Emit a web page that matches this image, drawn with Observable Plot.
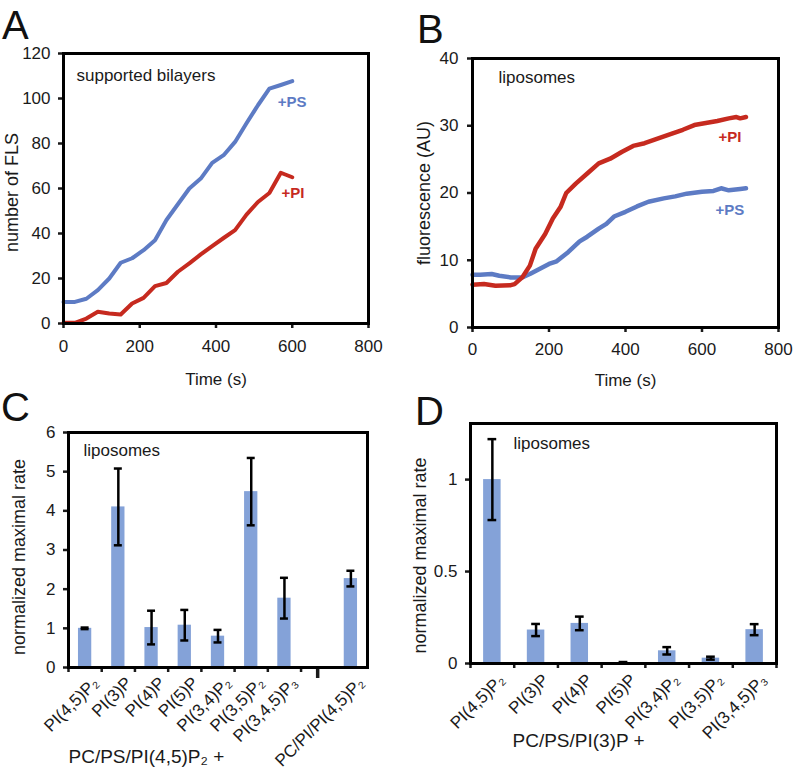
<!DOCTYPE html>
<html><head><meta charset="utf-8">
<script src="https://cdn.jsdelivr.net/npm/d3@7"></script>
<script src="https://cdn.jsdelivr.net/npm/@observablehq/plot@0.6"></script>
<style>
body{margin:0;background:#fff;font-family:"Liberation Sans",Arial,Helvetica,sans-serif;}
#fig{position:relative;width:795px;height:773px;overflow:hidden;background:#fff;}
.panel{position:absolute;}
.letter{position:absolute;font-size:40px;line-height:1;color:#111;}
</style></head><body>
<div id="fig">
  <div class="panel" id="pA" style="left:0;top:0"></div>
  <div class="panel" id="pB" style="left:400px;top:0"></div>
  <div class="panel" id="pC" style="left:0;top:385px"></div>
  <div class="panel" id="pD" style="left:400px;top:385px"></div>
  <div class="letter" style="left:2px;top:5px">A</div>
  <div class="letter" style="left:417px;top:9px">B</div>
  <div class="letter" style="left:1px;top:387px">C</div>
  <div class="letter" style="left:415px;top:391px">D</div>
</div>
<script>
// ---- Panel A: supported bilayers ----
const timeA = [0,30,60,90,120,150,180,210,240,270,300,330,360,390,420,450,480,510,540,570,600];
const psA = [9.6,9.6,11,14.8,20,27,29,32.6,37,46,53,60,64.4,71.4,74.8,80.7,89,97,104.4,106,107.7];
const piA = [0.3,0.3,2.2,5.2,4.4,4,8.9,11.4,16.6,18,23,26.7,30.7,34.4,38,41.5,48.4,54,58,67,65];
const yTicksA = [0,20,40,60,80,100,120];

// ---- Panel B: liposomes ----
const timePSB = [0,20,50,70,100,130,150,170,200,220,250,280,300,330,350,370,400,430,460,500,530,560,600,630,650,670,700,715];
const psB = [7.85,7.85,7.95,7.7,7.45,7.45,7.95,8.55,9.45,9.85,11.2,12.8,13.5,14.7,15.4,16.5,17.2,18,18.7,19.2,19.5,19.9,20.2,20.3,20.7,20.4,20.6,20.7];
const timePIB = [0,30,60,100,110,130,150,165,190,210,230,245,270,300,330,360,390,420,450,480,510,550,580,610,640,670,690,700,715];
const piB = [6.37,6.47,6.2,6.3,6.45,7.45,9.2,11.7,13.9,16.2,17.9,20.0,21.4,22.9,24.4,25.1,26.1,27.0,27.4,28.0,28.6,29.4,30.1,30.4,30.7,31.1,31.3,31.1,31.3];
const yTicksB = [0,10,20,30,40];
const xTicksTime = [0,200,400,600,800];

// ---- Panel C ----
const catsC = ["PI(4,5)P₂","PI(3)P","PI(4)P","PI(5)P","PI(3,4)P₂","PI(3,5)P₂","PI(3,4,5)P₃","","PC/PI/PI(4,5)P₂"];
const valsC = [1.0,4.10,1.02,1.08,0.80,4.49,1.77,null,2.27];
const errC  = [0.02,0.98,0.43,0.39,0.16,0.86,0.52,null,0.20];
const yTicksC = [0,1,2,3,4,5,6];

// ---- Panel D ----
const catsD = ["PI(4,5)P₂","PI(3)P","PI(4)P","PI(5)P","PI(3,4)P₂","PI(3,5)P₂","PI(3,4,5)P₃"];
const valsD = [1.0,0.182,0.218,0.005,0.069,0.029,0.184];
const errD  = [0.22,0.033,0.037,0.003,0.02,0.008,0.03];
const yTicksD = [0,0.5,1];

const BLUE = "#5d7bc4", RED = "#c62a1f", BAR = "#84a2d8", INK = "#1a1a1a";
const FONT = "'Liberation Sans', Arial, Helvetica, sans-serif";
const style = {fontFamily: FONT, fontSize: "17px", color: INK, background: "transparent", overflow: "visible"};

const zip = (xs, ys) => xs.map((t, i) => ({t, v: ys[i]}));

// Panel A
document.getElementById("pA").append(Plot.plot({
  width: 398, height: 395,
  marginLeft: 63, marginRight: 30, marginTop: 53, marginBottom: 72,
  x: {domain: [0, 800]}, y: {domain: [0, 120]},
  style,
  marks: [
    Plot.axisX({ticks: xTicksTime, tickSize: 5, tickPadding: 11, strokeWidth: 2.5, fontSize: 17, label: null}),
    Plot.axisY({ticks: yTicksA, tickSize: 5, tickPadding: 8, strokeWidth: 2.5, fontSize: 17, label: null}),
    Plot.line(zip(timeA, psA), {x: "t", y: "v", stroke: BLUE, strokeWidth: 4}),
    Plot.line(zip(timeA, piA), {x: "t", y: "v", stroke: RED, strokeWidth: 4}),
    Plot.text([{s: "+PS", t: 562, v: 98.2, c: BLUE}, {s: "+PI", t: 572, v: 57.8, c: RED}],
      {x: "t", y: "v", text: "s", fill: "c", fontWeight: "bold", fontSize: 15, textAnchor: "start"}),
    Plot.text(["supported bilayers"], {frameAnchor: "top-left", dx: 13, dy: 22, textAnchor: "start", lineAnchor: "middle", fontSize: 17}),
    Plot.text(["number of FLS"], {frameAnchor: "left", textAnchor: "middle", rotate: -90, dx: -51, dy: 4, fontSize: 18}),
    Plot.text(["Time (s)"], {frameAnchor: "bottom", textAnchor: "middle", dy: 61, fontSize: 17}),
    Plot.frame({stroke: "#000", strokeWidth: 3})
  ]
}));

// Panel B
document.getElementById("pB").append(Plot.plot({
  width: 395, height: 395,
  marginLeft: 72, marginRight: 17, marginTop: 58, marginBottom: 68,
  x: {domain: [0, 800]}, y: {domain: [0, 40]},
  style,
  marks: [
    Plot.axisX({ticks: xTicksTime, tickSize: 5, tickPadding: 10, strokeWidth: 2.5, fontSize: 17, label: null}),
    Plot.axisY({ticks: yTicksB, tickSize: 5, tickPadding: 9, strokeWidth: 2.5, fontSize: 17, label: null}),
    Plot.line(zip(timePSB, psB), {x: "t", y: "v", stroke: BLUE, strokeWidth: 4.5}),
    Plot.line(zip(timePIB, piB), {x: "t", y: "v", stroke: RED, strokeWidth: 4.5}),
    Plot.text([{s: "+PI", t: 643, v: 28.3, c: RED}, {s: "+PS", t: 635, v: 17.5, c: BLUE}],
      {x: "t", y: "v", text: "s", fill: "c", fontWeight: "bold", fontSize: 15, textAnchor: "start"}),
    Plot.text(["liposomes"], {frameAnchor: "top-left", dx: 26, dy: 19, textAnchor: "start", lineAnchor: "middle", fontSize: 17}),
    Plot.text(["fluorescence (AU)"], {frameAnchor: "left", textAnchor: "middle", rotate: -90, dx: -48, fontSize: 18}),
    Plot.text(["Time (s)"], {frameAnchor: "bottom", textAnchor: "middle", dy: 58, fontSize: 17}),
    Plot.frame({stroke: "#000", strokeWidth: 3})
  ]
}));

function barPanel(el, cats, vals, errs, opts) {
  const rows = cats.map((label, k) => ({i: k + 1, label, v: vals[k], e: errs[k]})).filter(d => d.label !== "");
  const sepIdx = cats.indexOf("") + 1; // 0 when no separator
  const nBound = sepIdx > 0 ? sepIdx : cats.length + 1;
  const bounds = d3.range(nBound).map(k => k + 0.5);
  const marks = [
    Plot.axisX({ticks: bounds, tickSize: 5, strokeWidth: 2.5, tickFormat: () => "", label: null}),
    Plot.axisY({ticks: opts.yTicks, tickSize: 5, tickPadding: 8, strokeWidth: 2.5, fontSize: 17, label: null, tickFormat: d => String(d)}),
    Plot.rect(rows, {x1: d => d.i - 0.2, x2: d => d.i + 0.2, y1: 0, y2: "v", fill: BAR}),
    Plot.ruleX(rows, {x: "i", y1: d => d.v - d.e, y2: d => d.v + d.e, stroke: "#000", strokeWidth: 2.5}),
    Plot.ruleY(rows, {y: d => d.v + d.e, x1: d => d.i - opts.cap, x2: d => d.i + opts.cap, stroke: "#000", strokeWidth: 2.5}),
    Plot.ruleY(rows, {y: d => d.v - d.e, x1: d => d.i - opts.cap, x2: d => d.i + opts.cap, stroke: "#000", strokeWidth: 2.5}),
    Plot.text(rows, {x: "i", text: "label", frameAnchor: "bottom", rotate: -45, textAnchor: "end", lineAnchor: "top", dx: opts.ldx, dy: opts.ldy, fontSize: opts.lfs}),
    Plot.text(["liposomes"], {frameAnchor: "top-left", dx: opts.tdx, dy: opts.tdy, textAnchor: "start", lineAnchor: "middle", fontSize: 17}),
    Plot.text(["normalized maximal rate"], {frameAnchor: "left", textAnchor: "middle", rotate: -90, dx: opts.ydx, dy: opts.ydy, fontSize: 18}),
    Plot.text([opts.group], {frameAnchor: "bottom-left", dx: opts.gdx, dy: opts.gdy, textAnchor: "start", lineAnchor: "middle", fontSize: 19}),
    Plot.frame({stroke: "#000", strokeWidth: 3})
  ];
  if (sepIdx > 0) marks.splice(1, 0, Plot.axisX({ticks: [sepIdx], tickSize: 11, strokeWidth: 3.5, tickFormat: () => "", label: null}));
  document.getElementById(el).append(Plot.plot({
    width: opts.width, height: 388,
    marginLeft: opts.ml, marginRight: opts.mr, marginTop: opts.mt, marginBottom: opts.mb,
    x: {domain: [0.5, cats.length + 0.5]}, y: {domain: opts.yDomain},
    style, marks
  }));
}

barPanel("pC", catsC, valsC, errC, {
  width: 400, ml: 68, mr: 33, mt: 47, mb: 106, yDomain: [0, 6], yTicks: yTicksC, cap: 0.12,
  ldx: 6, ldy: 8, lfs: 17, tdx: 15, tdy: 18, ydx: -49, ydy: 7, group: "PC/PS/PI(4,5)P₂ +", gdx: 0, gdy: 89
});
barPanel("pD", catsD, valsD, errD, {
  width: 395, ml: 70, mr: 19, mt: 38, mb: 110, yDomain: [0, 1.305], yTicks: yTicksD, cap: 0.1,
  ldx: 5, ldy: 9, lfs: 17, tdx: 43, tdy: 20, ydx: -50, ydy: 12, group: "PC/PS/PI(3)P +", gdx: 42, gdy: 77
});
</script>
</body></html>
